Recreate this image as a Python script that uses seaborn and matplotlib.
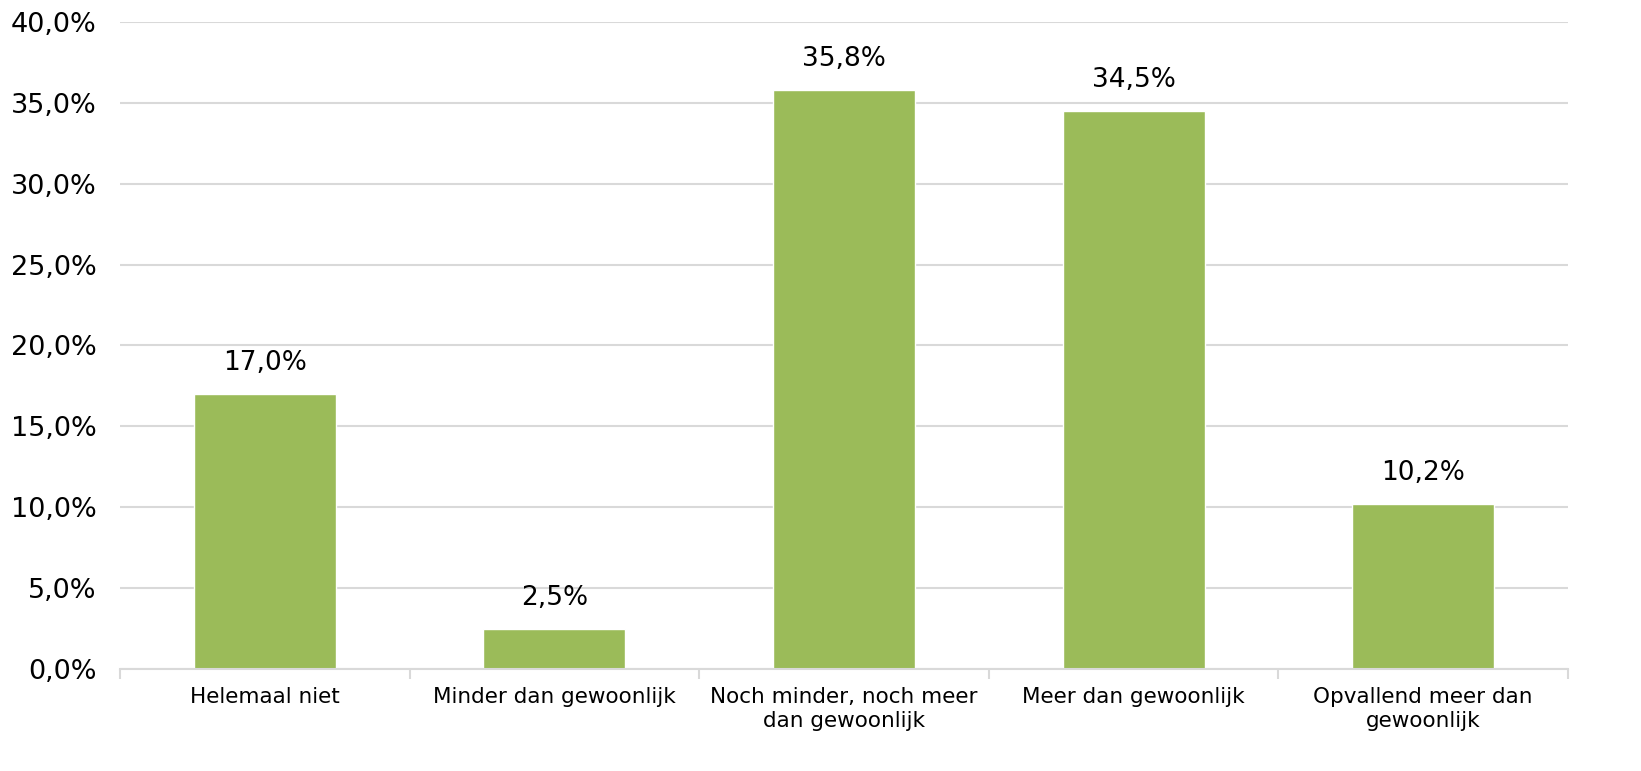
import matplotlib
matplotlib.use("Agg")
import matplotlib.pyplot as plt
import seaborn as sns
import pandas as pd
import numpy as np
from matplotlib.ticker import FuncFormatter, FixedLocator

categories = ["Helemaal niet", "Minder dan gewoonlijk", "Noch minder, noch meer\ndan gewoonlijk",
              "Meer dan gewoonlijk", "Opvallend meer dan\ngewoonlijk"]
values = [17.0, 2.5, 35.8, 34.5, 10.2]
y_ticks = [0, 5, 10, 15, 20, 25, 30, 35, 40]

sns.set_theme(style="white")
plt.rcParams['font.family'] = ['DejaVu Sans']

df = pd.DataFrame({"cat": categories, "val": values})

fig = plt.figure(figsize=(16.41, 7.71), dpi=100)
ax = fig.add_axes([0.0731, 0.1323, 0.8824, 0.8392])

sns.barplot(data=df, x="cat", y="val", color="#9BBB59", width=0.49, ax=ax, saturation=1)

ax.set_ylim(0, 40)
ax.set_xlim(-0.5, 4.5)
ax.set_yticks(y_ticks)
ax.yaxis.set_major_formatter(FuncFormatter(lambda v, p: f"{v:.1f}".replace(".", ",") + "%"))
ax.grid(axis="y", color="#D9D9D9", linewidth=1.5)
ax.set_axisbelow(True)
for s in ["top", "right", "left"]:
    ax.spines[s].set_visible(False)
ax.spines["bottom"].set_color("#D9D9D9")
ax.spines["bottom"].set_linewidth(1.5)

ax.tick_params(axis="y", length=0, labelsize=19.5, pad=17, labelcolor="black")
ax.tick_params(axis="x", which="major", length=0, labelsize=15.5, pad=13, labelcolor="black")
for lbl in ax.get_xticklabels():
    lbl.set_linespacing(1.25)
ax.xaxis.set_minor_locator(FixedLocator(np.arange(-0.5, 5.0, 1.0)))
ax.tick_params(axis="x", which="minor", length=7, width=1.5, color="#D9D9D9", bottom=True)
ax.set_xlabel("")
ax.set_ylabel("")

for i, v in enumerate(values):
    ax.text(i, v + 1.1, f"{v:.1f}".replace(".", ",") + "%", ha="center", va="bottom",
            fontsize=19, color="black")

fig.savefig("out.png", dpi=100)
